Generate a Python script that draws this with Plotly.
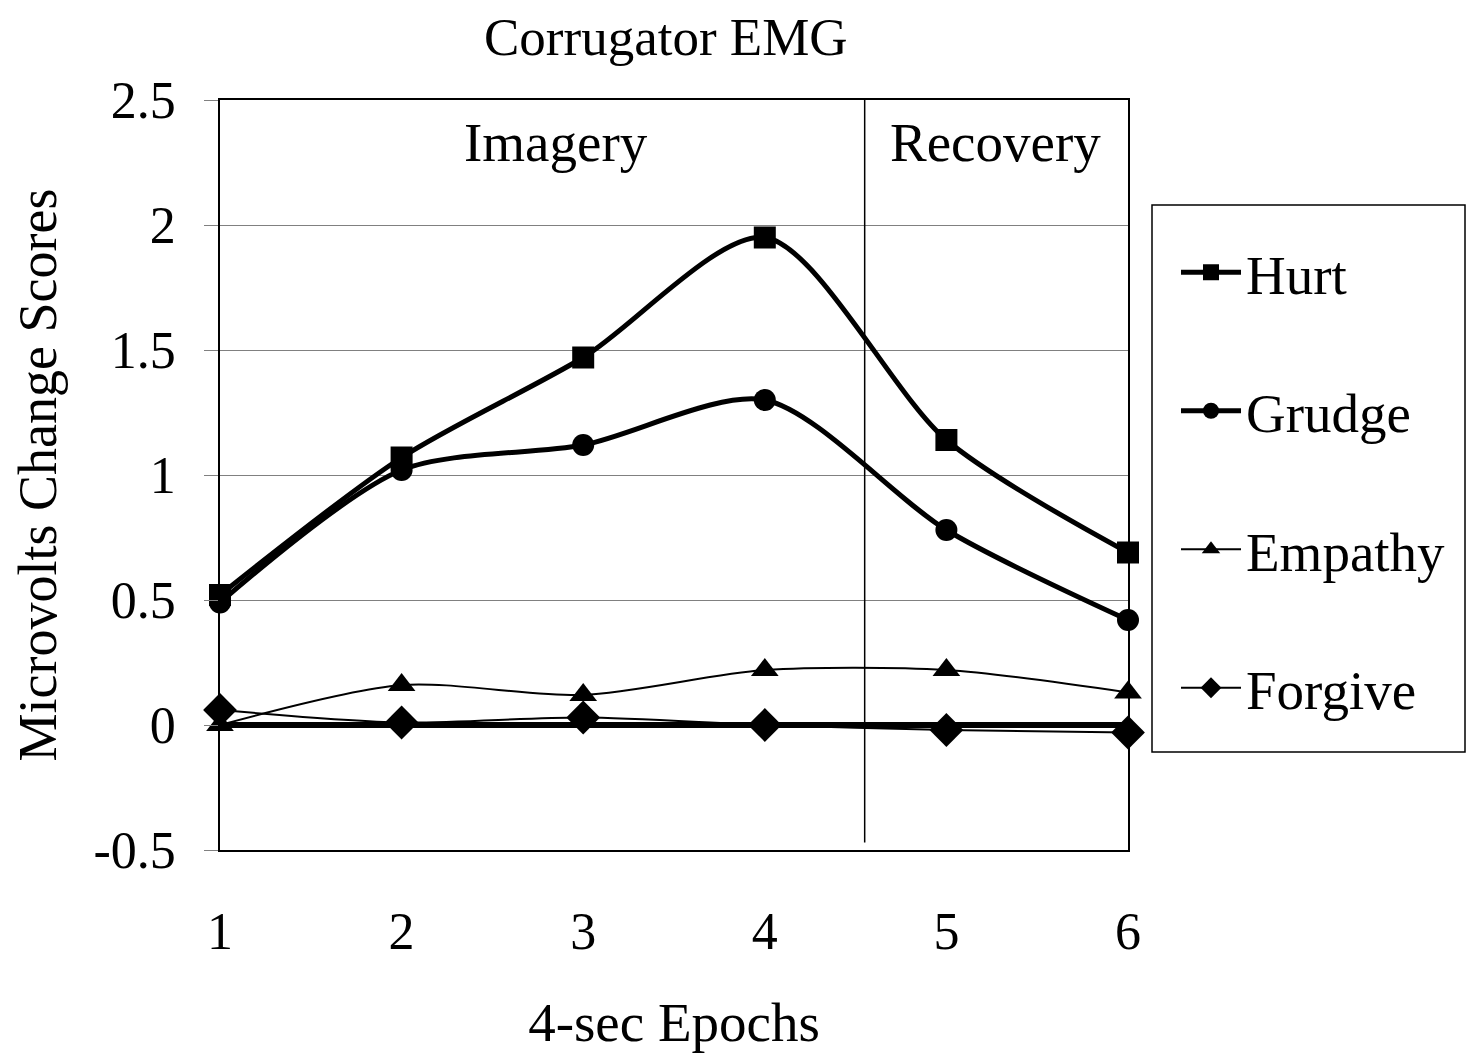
import plotly.graph_objects as go

epochs = [1, 2, 3, 4, 5, 6]
hurt = [0.52, 1.07, 1.47, 1.95, 1.14, 0.69]
grudge = [0.49, 1.02, 1.12, 1.30, 0.78, 0.42]
empathy = [0.00, 0.16, 0.12, 0.22, 0.22, 0.13]
forgive = [0.06, 0.01, 0.03, 0.00, -0.02, -0.03]

y_ticks = [-0.5, 0, 0.5, 1, 1.5, 2, 2.5]
y_tick_text = ["-0.5", "0", "0.5", "1", "1.5", "2", "2.5"]

FONT = "Liberation Serif, Times New Roman, serif"

series = [
    ("Hurt", hurt, "square", 5, 22),
    ("Grudge", grudge, "circle", 5, 22),
    ("Empathy", empathy, "triangle-up", 2, 24),
    ("Forgive", forgive, "diamond", 2, 26),
]

fig = go.Figure()
for i, (name, vals, sym, lw, ms) in enumerate(series):
    fig.add_trace(go.Scatter(
        x=epochs, y=vals, name=name, mode="lines+markers",
        line=dict(color="black", width=lw, shape="spline", smoothing=0.8),
        marker=dict(symbol=sym, size=ms, color="black"),
        legendgroup=f"g{i}", cliponaxis=False,
    ))

# Phase divider between imagery and recovery
fig.add_shape(type="line", xref="x", yref="y", x0=4.55, x1=4.55, y0=-0.47, y1=2.5,
              line=dict(color="black", width=1.5))

# Legend frame
fig.add_shape(type="rect", xref="paper", yref="paper",
              x0=(1152 - 220) / 908, x1=(1465 - 220) / 908,
              y0=(850 - 752) / 750, y1=(850 - 205) / 750,
              line=dict(color="black", width=1.5), fillcolor="rgba(0,0,0,0)")

fig.add_annotation(x=2.85, y=2.33, xref="x", yref="y", text="Imagery", showarrow=False,
                   font=dict(family=FONT, size=55, color="black"))
fig.add_annotation(x=5.27, y=2.33, xref="x", yref="y", text="Recovery", showarrow=False,
                   font=dict(family=FONT, size=55, color="black"))
fig.add_annotation(xref="paper", yref="paper", x=(666 - 220) / 908, y=1 + (100 - 37) / 750,
                   xanchor="center", yanchor="middle", text="Corrugator EMG", showarrow=False,
                   font=dict(family=FONT, size=53, color="black"))

fig.update_layout(
    width=1467, height=1047,
    margin=dict(l=212, r=347, t=92, b=205, autoexpand=False),
    paper_bgcolor="white", plot_bgcolor="white",
    font=dict(family=FONT, color="black", size=52),
    showlegend=True,
    legend=dict(
        x=(1176 - 220) / 908, y=(850 - 230) / 750, xanchor="left", yanchor="top",
        borderwidth=0, bgcolor="rgba(0,0,0,0)",
        font=dict(family=FONT, size=55, color="black"),
        tracegroupgap=64, traceorder="grouped", itemwidth=60,
    ),
    xaxis=dict(
        range=[1, 6], tickvals=epochs, ticktext=[str(e) for e in epochs],
        showgrid=False, zeroline=False, showline=True, linecolor="black", linewidth=1.5,
        mirror=True, ticks="", ticklabelstandoff=35,
        tickfont=dict(family=FONT, size=52, color="black"),
        title=dict(text="4-sec Epochs", font=dict(family=FONT, size=55, color="black"), standoff=43),
    ),
    yaxis=dict(
        range=[-0.5, 2.5], tickvals=y_ticks, ticktext=y_tick_text,
        showgrid=True, gridcolor="#808080", gridwidth=1,
        zeroline=True, zerolinecolor="black", zerolinewidth=6,
        showline=True, linecolor="black", linewidth=1.5, mirror=True,
        ticks="outside", ticklen=14, tickcolor="#808080", tickwidth=1,
        ticklabelstandoff=18,
        tickfont=dict(family=FONT, size=52, color="black"),
        title=dict(text="Microvolts Change Scores", font=dict(family=FONT, size=54, color="black"), standoff=28),
    ),
)

fig.write_html("out.html")
